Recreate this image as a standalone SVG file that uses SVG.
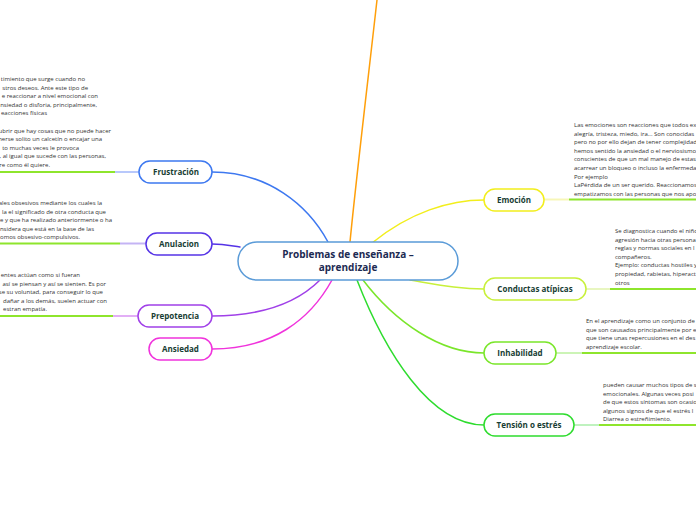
<svg xmlns="http://www.w3.org/2000/svg" width="696" height="520" viewBox="0 0 696 520">
<style>
.c{fill:none;stroke-width:1.5;stroke-linecap:round}
.u{fill:none;stroke-width:2}
.g{stroke:#8ee52c}
.n{fill:#ffffff;stroke-width:1.5}
.lbl{font-family:"Open Sans","Noto Sans",sans-serif;font-weight:bold;font-size:8px;fill:#183d33;text-anchor:middle}
.t{font-family:"Open Sans","Noto Sans",sans-serif;font-size:6px;fill:#333333}
.te{font-family:"Open Sans","Noto Sans",sans-serif;font-size:6px;fill:#333333;text-anchor:end}
</style>
<rect width="696" height="520" fill="#ffffff"/>
<g id="connectors">
<path class="c" d="M350,242 C356,180 368,80 377,0" stroke="#ff9f0a" stroke-width="2"/>
<path class="c" d="M212,172 C268,172 308,205 328,242" stroke="#3d78f0"/>
<path class="c" d="M212,244 C225,244 232,246 240,247" stroke="#5533e6"/>
<path class="c" d="M212,316 C262,316 298,302 320,280" stroke="#a040e8"/>
<path class="c" d="M212,349 C272,349 310,320 332,280" stroke="#f033dc"/>
<path class="c" d="M372,243 C410,212 450,200 484,200" stroke="#f2ee1c"/>
<path class="c" d="M410,280 C440,285 460,289 484,289" stroke="#c8f03a"/>
<path class="c" d="M363,280 C395,322 440,353 484,353" stroke="#7ae62a"/>
<path class="c" d="M357,280 C385,352 430,425 484,425" stroke="#2edc2e"/>
<line class="u g" x1="0" y1="172" x2="115" y2="172"/>
<line class="u" x1="115" y1="172" x2="139" y2="172" stroke="#b8c8fb"/>
<line class="u g" x1="0" y1="243.5" x2="120" y2="243.5"/>
<line class="u" x1="120" y1="243.5" x2="146" y2="243.5" stroke="#c4b4f4"/>
<line class="u g" x1="0" y1="316" x2="113" y2="316"/>
<line class="u" x1="113" y1="316" x2="138" y2="316" stroke="#e2aef6"/>
<line class="u" x1="544" y1="199.5" x2="569" y2="199.5" stroke="#f7f6b8"/>
<line class="u g" x1="569" y1="199.5" x2="696" y2="199.5"/>
<line class="u" x1="586" y1="289" x2="610" y2="289" stroke="#e8f6c0"/>
<line class="u g" x1="610" y1="289" x2="696" y2="289"/>
<line class="u" x1="556" y1="353" x2="582" y2="353" stroke="#ccf4b6"/>
<line class="u g" x1="582" y1="353" x2="696" y2="353"/>
<line class="u" x1="574" y1="425" x2="599" y2="425" stroke="#bff2bf"/>
<line class="u g" x1="599" y1="425" x2="696" y2="425"/>
</g>
<g id="central">
<rect class="n" x="238" y="242" width="220" height="38" rx="19" stroke="#5a9bd8"/>
<text x="348" y="258" font-family="'Open Sans','Noto Sans',sans-serif" font-weight="bold" font-size="10" fill="#1c2a52" text-anchor="middle">Problemas de enseñanza –</text>
<text x="348" y="271" font-family="'Open Sans','Noto Sans',sans-serif" font-weight="bold" font-size="10" fill="#1c2a52" text-anchor="middle">aprendizaje</text>
</g>
<g id="frustracion">
<rect class="n" x="139" y="161" width="73" height="22" rx="11" stroke="#3d78f0"/>
<text class="lbl" x="176" y="175">Frustración</text>
<text class="te" x="85" y="81">timiento que surge cuando no</text>
<text class="te" x="88" y="89.6">stros deseos. Ante este tipo de</text>
<text class="te" x="98" y="98.2">e reaccionar a nivel emocional con</text>
<text class="te" x="97" y="106.8">nsiedad o disforia, principalmente,</text>
<text class="te" x="47" y="115.4">eacciones físicas</text>
<text class="te" x="111" y="132.6">ubrir que hay cosas que no puede hacer</text>
<text class="te" x="102" y="141.2">nerse solito un calcetín o encajar una</text>
<text class="te" x="79" y="149.8">to muchas veces le provoca</text>
<text class="te" x="106" y="158.4">, al igual que sucede con las personas,</text>
<text class="te" x="50" y="167">re como él quiere.</text>
</g>
<g id="anulacion">
<rect class="n" x="146" y="233" width="66" height="22" rx="11" stroke="#5533e6"/>
<text class="lbl" x="179" y="247">Anulacion</text>
<text class="te" x="102" y="205">ales obsesivos mediante los cuales la</text>
<text class="te" x="106" y="213.6">la el significado de otra conducta que</text>
<text class="te" x="112" y="222.2">te y que ha realizado anteriormente o ha</text>
<text class="te" x="94" y="230.8">nsidera que está en la base de las</text>
<text class="te" x="80" y="239.4">omos obsesivo-compulsivos.</text>
</g>
<g id="prepotencia">
<rect class="n" x="138" y="305" width="74" height="22" rx="11" stroke="#a040e8"/>
<text class="lbl" x="175" y="319">Prepotencia</text>
<text class="te" x="80" y="277">entes actúan como si fueran</text>
<text class="te" x="106" y="285.6">así se piensan y así se sienten. Es por</text>
<text class="te" x="103" y="294.2">se su voluntad, para conseguir lo que</text>
<text class="te" x="107" y="302.8">dañar a los demás, suelen actuar con</text>
<text class="te" x="47" y="311.4">estran empatía.</text>
</g>
<g id="ansiedad">
<rect class="n" x="149" y="338" width="63" height="22" rx="11" stroke="#f033dc"/>
<text class="lbl" x="180.5" y="352">Ansiedad</text>
</g>
<g id="emocion">
<rect class="n" x="484" y="189" width="60" height="22" rx="11" stroke="#f2ee1c"/>
<text class="lbl" x="514" y="203">Emoción</text>
<text class="t" x="574" y="127">Las emociones son reacciones que todos ex</text>
<text class="t" x="574" y="135.6">alegría, tristeza, miedo, ira... Son conocidas</text>
<text class="t" x="574" y="144.2">pero no por ello dejan de tener complejidad</text>
<text class="t" x="574" y="152.8">hemos sentido la ansiedad o el nerviosismo,</text>
<text class="t" x="574" y="161.4">conscientes de que un mal manejo de estas</text>
<text class="t" x="574" y="170">acarrear un bloqueo o incluso la enfermeda</text>
<text class="t" x="574" y="178.6">Por ejemplo</text>
<text class="t" x="574" y="187.2">LaPérdida de un ser querido. Reaccionamos</text>
<text class="t" x="574" y="195.8">empatizamos con las personas que nos apo</text>
</g>
<g id="conductas">
<rect class="n" x="484" y="278" width="102" height="22" rx="11" stroke="#c8f03a"/>
<text class="lbl" x="535" y="292">Conductas atípicas</text>
<text class="t" x="615" y="233">Se diagnostica cuando el niño</text>
<text class="t" x="615" y="241.6">agresión hacia otras persona</text>
<text class="t" x="615" y="250.2">reglas y normas sociales en l</text>
<text class="t" x="615" y="258.8">compañeros.</text>
<text class="t" x="615" y="267.4"> Ejemplo: conductas hostiles y</text>
<text class="t" x="615" y="276">propiedad, rabietas, hiperact</text>
<text class="t" x="615" y="284.6">otros</text>
</g>
<g id="inhabilidad">
<rect class="n" x="484" y="342" width="72" height="22" rx="11" stroke="#7ae62a"/>
<text class="lbl" x="520" y="356">Inhabilidad</text>
<text class="t" x="586" y="323">En el aprendizaje como un conjunto de</text>
<text class="t" x="586" y="331.6">que son causados principalmente por el</text>
<text class="t" x="586" y="340.2">que tiene unas repercusiones en el des</text>
<text class="t" x="586" y="348.8">aprendizaje escolar.</text>
</g>
<g id="tension">
<rect class="n" x="484" y="414" width="90" height="22" rx="11" stroke="#2edc2e"/>
<text class="lbl" x="529" y="428">Tensión o estrés</text>
<text class="t" x="603" y="387">pueden causar muchos tipos de s</text>
<text class="t" x="603" y="395.6">emocionales. Algunas veces posi</text>
<text class="t" x="603" y="404.2">de que estos síntomas son ocasio</text>
<text class="t" x="603" y="412.8">algunos signos de que el estrés l</text>
<text class="t" x="603" y="421.4">Diarrea o estreñimiento.</text>
</g>
</svg>
